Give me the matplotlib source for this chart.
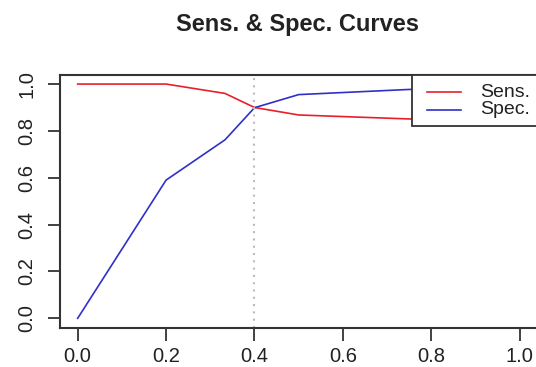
import matplotlib
matplotlib.use("Agg")
import matplotlib.pyplot as plt
from matplotlib.patches import Rectangle
from matplotlib.lines import Line2D

# cutoff values and the two curves
cutoffs = [0.0, 0.2, 1 / 3, 0.4, 0.5, 0.75, 1.0]
sens = [1.0, 1.0, 0.96, 0.90, 0.868, 0.851, 0.85]
spec = [0.0, 0.59, 0.762, 0.899, 0.955, 0.977, 0.98]
best_cutoff = 0.4
x_ticks = [0.0, 0.2, 0.4, 0.6, 0.8, 1.0]
y_ticks = [0.0, 0.2, 0.4, 0.6, 0.8, 1.0]
labels = ["Sens.", "Spec."]

plt.rcParams["font.family"] = ["Liberation Sans", "DejaVu Sans"]

fig = plt.figure(figsize=(5.36, 3.67), dpi=100)
ax = fig.add_axes([0.1119, 0.1071, 0.8907, 0.6894])

ax.plot(cutoffs, sens, color="#e8202a", lw=1.2)
ax.plot(cutoffs, spec, color="#3030c8", lw=1.2)
ax.axvline(best_cutoff, color="#bbbbbb", lw=1.5, linestyle=(0, (1, 2.5)))

# R style: 4% padding around the data range
ax.set_xlim(-0.04, 1.04)
ax.set_ylim(-0.04, 1.04)
ax.set_xticks(x_ticks)
ax.set_yticks(y_ticks)
ax.set_xticklabels([f"{v:.1f}" for v in x_ticks])
ax.set_yticklabels([f"{v:.1f}" for v in y_ticks], rotation=90, va="center")
ax.tick_params(axis="both", length=9, width=1.3, color="#333333",
               labelsize=14.5, labelcolor="#222222")
ax.tick_params(axis="x", pad=5)
ax.tick_params(axis="y", pad=8)
for s in ax.spines.values():
    s.set_linewidth(1.5)
    s.set_color("#333333")

# legend box drawn by hand, R topright look
ax.add_patch(Rectangle((0.7367, 0.798), 0.2633, 0.202, transform=ax.transAxes,
                       facecolor="white", edgecolor="#333333", lw=1.3,
                       zorder=5, clip_on=False))
for lab, col, yy in zip(labels, ["#e8202a", "#3030c8"], [0.930, 0.8605]):
    ax.add_line(Line2D([0.768, 0.841], [yy, yy], transform=ax.transAxes,
                       color=col, lw=1.2, zorder=6))
    ax.text(0.880, yy, lab, transform=ax.transAxes, fontsize=14,
            color="#222222", va="center", ha="left", zorder=6)

fig.text(298 / 536, 1 - 24 / 367, "Sens. & Spec. Curves", fontsize=17,
         fontweight="bold", ha="center", va="center", color="#222222")

fig.savefig("out.png", dpi=100)
